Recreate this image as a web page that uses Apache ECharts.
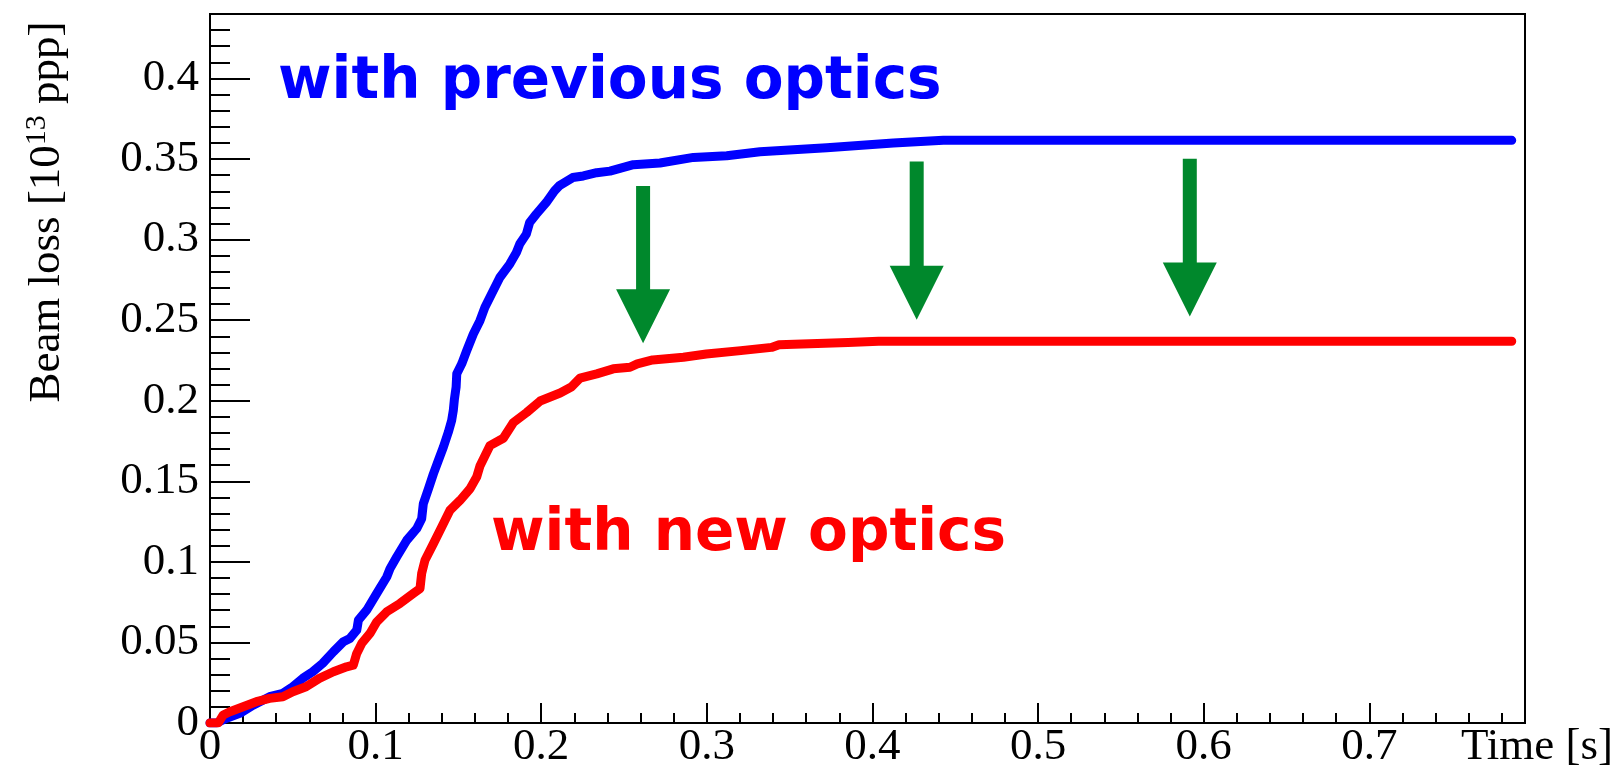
<!DOCTYPE html>
<html><head><meta charset="utf-8">
<script src="https://cdn.jsdelivr.net/npm/echarts@6/dist/echarts.min.js"></script>
<style>html,body{margin:0;padding:0;background:#fff}#c{width:1624px;height:777px}</style>
</head><body><div id="c"></div>
<script>
// Beam loss [10^13 ppp] vs Time [s]
const previousOptics = [[0.000,0.000],[0.004,0.000],[0.010,0.003],[0.018,0.006],[0.026,0.011],[0.036,0.0163],[0.044,0.0184],[0.050,0.0225],[0.056,0.0277],[0.062,0.0318],[0.068,0.037],[0.0745,0.0442],[0.0805,0.0504],[0.0845,0.0525],[0.0886,0.0576],[0.0896,0.0638],[0.0946,0.070],[0.1007,0.0804],[0.1067,0.0906],[0.1087,0.0958],[0.1127,0.103],[0.1188,0.1134],[0.1248,0.1206],[0.1278,0.1268],[0.1288,0.1361],[0.1319,0.1454],[0.1349,0.1547],[0.1379,0.163],[0.1409,0.1712],[0.1439,0.1805],[0.1459,0.1877],[0.1469,0.1939],[0.1476,0.2012],[0.1486,0.2084],[0.1490,0.2167],[0.152,0.2229],[0.155,0.2311],[0.159,0.2414],[0.163,0.2497],[0.166,0.258],[0.170,0.2662],[0.175,0.2765],[0.181,0.2848],[0.185,0.292],[0.187,0.2972],[0.191,0.3034],[0.193,0.3106],[0.197,0.3158],[0.203,0.323],[0.208,0.3302],[0.211,0.3335],[0.219,0.3385],[0.2254,0.3395],[0.2335,0.3415],[0.2415,0.3425],[0.2556,0.3465],[0.2717,0.3475],[0.2919,0.3510],[0.312,0.3520],[0.3321,0.3545],[0.3724,0.3570],[0.4126,0.3600],[0.4428,0.3616],[0.786,0.3616]];
const newOptics = [[0.000,0.000],[0.005,0.000],[0.008,0.005],[0.012,0.007],[0.020,0.0101],[0.028,0.0132],[0.036,0.0153],[0.044,0.0163],[0.050,0.0194],[0.058,0.0225],[0.066,0.0277],[0.0745,0.0318],[0.0825,0.0349],[0.0865,0.0359],[0.0886,0.0432],[0.0916,0.0494],[0.0966,0.0556],[0.1007,0.0628],[0.1067,0.069],[0.1147,0.0742],[0.1228,0.0804],[0.1268,0.0834],[0.1278,0.0928],[0.1298,0.101],[0.1349,0.1113],[0.1399,0.1216],[0.1449,0.132],[0.151,0.1382],[0.157,0.1454],[0.161,0.1526],[0.163,0.1595],[0.169,0.1721],[0.1771,0.1767],[0.1832,0.1865],[0.1912,0.1927],[0.1993,0.1998],[0.2114,0.2048],[0.2184,0.2087],[0.2234,0.2140],[0.2335,0.2167],[0.2435,0.2198],[0.2536,0.2208],[0.258,0.2229],[0.2673,0.2253],[0.2858,0.2270],[0.2997,0.2290],[0.3205,0.2311],[0.339,0.2331],[0.3436,0.2348],[0.3852,0.2362],[0.4037,0.2369],[0.786,0.2369]];
// arrows: [time, top of shaft, tip]
const arrows = [[0.2615,0.3333,0.2356],[0.4267,0.3484,0.2503],[0.5916,0.3501,0.2522]];
const xRange = [0, 0.794];
const yRange = [0, 0.44];
const xMajor = 0.1, xMinor = 0.02, yMajor = 0.05, yMinor = 0.01;
const labels = {prev: 'with previous optics', next: 'with new optics', x: 'Time [s]'};

const serif = 'Liberation Serif';
const chart = echarts.init(document.getElementById('c'), null, {renderer: 'canvas'});
const blk = '#000';
chart.setOption({
  animation: false,
  backgroundColor: '#fff',
  grid: {left: 210, right: 99, top: 14, bottom: 54, show: true, borderColor: blk, borderWidth: 2, backgroundColor: 'transparent'},
  xAxis: [
    {type: 'value', min: xRange[0], max: xRange[1], interval: xMajor,
     axisLine: {show: true, lineStyle: {color: blk, width: 2}},
     axisTick: {show: true, inside: true, length: 20, lineStyle: {color: blk, width: 2}},
     axisLabel: {show: true, showMaxLabel: false, margin: 2, color: blk, fontFamily: serif, fontSize: 45},
     splitLine: {show: false}},
    {type: 'value', min: xRange[0], max: xRange[1], interval: xMinor, position: 'bottom',
     axisLine: {show: false}, axisLabel: {show: false}, splitLine: {show: false},
     axisTick: {show: true, inside: true, length: 10, lineStyle: {color: blk, width: 2}}}
  ],
  yAxis: [
    {type: 'value', min: yRange[0], max: yRange[1], interval: yMajor,
     axisLine: {show: true, lineStyle: {color: blk, width: 2}},
     axisTick: {show: true, inside: true, length: 40, lineStyle: {color: blk, width: 2}},
     axisLabel: {show: true, showMaxLabel: false, margin: 11, color: blk, fontFamily: serif, fontSize: 45},
     splitLine: {show: false}},
    {type: 'value', min: yRange[0], max: yRange[1], interval: yMinor, position: 'left',
     axisLine: {show: false}, axisLabel: {show: false}, splitLine: {show: false},
     axisTick: {show: true, inside: true, length: 20, lineStyle: {color: blk, width: 2}}}
  ],
  series: [
    {type: 'line', name: labels.prev, data: previousOptics, xAxisIndex: 0, yAxisIndex: 0,
     showSymbol: false, lineStyle: {color: '#0000ff', width: 9, cap: 'round', join: 'round'}, z: 3},
    {type: 'line', name: labels.next, data: newOptics, xAxisIndex: 0, yAxisIndex: 0,
     showSymbol: false, lineStyle: {color: '#ff0000', width: 9, cap: 'round', join: 'round'}, z: 4},
    {type: 'custom', data: arrows, xAxisIndex: 0, yAxisIndex: 0, encode: {x: 0, y: [1, 2]}, z: 5,
     renderItem: function (params, api) {
       const top = api.coord([api.value(0), api.value(1)]);
       const tip = api.coord([api.value(0), api.value(2)]);
       const x = top[0], sw = 7, hw = 27, hl = 54;
       const base = tip[1] - hl;
       return {type: 'polygon', shape: {points: [[x - sw, top[1]], [x + sw, top[1]], [x + sw, base], [x + hw, base], [x, tip[1]], [x - hw, base], [x - sw, base]]},
               style: {fill: '#00882c'}};
     }}
  ],
  graphic: [
    {type: 'text', x: 278, y: 83, style: {text: labels.prev, fill: '#0000ff', font: 'bold 58px "DejaVu Sans"', textAlign: 'left', textVerticalAlign: 'middle'}, z: 10},
    {type: 'text', x: 491, y: 535, style: {text: labels.next, fill: '#ff0000', font: 'bold 58px "DejaVu Sans"', textAlign: 'left', textVerticalAlign: 'middle'}, z: 10},
    {type: 'text', x: 1613, y: 725, style: {text: labels.x, fill: blk, font: '45px "Liberation Serif"', textAlign: 'right', textVerticalAlign: 'top'}, z: 10},
    {type: 'text', x: 47, y: 212, rotation: Math.PI / 2,
     style: {text: '{a|Beam loss [10}{s|13}{a| ppp]}', fill: blk, textAlign: 'center', textVerticalAlign: 'middle',
             rich: {a: {fontFamily: serif, fontSize: 45, fill: blk, lineHeight: 50}, s: {fontFamily: serif, fontSize: 30, fill: blk, verticalAlign: 'top', lineHeight: 50}}}, z: 10}
  ]
});
</script></body></html>
